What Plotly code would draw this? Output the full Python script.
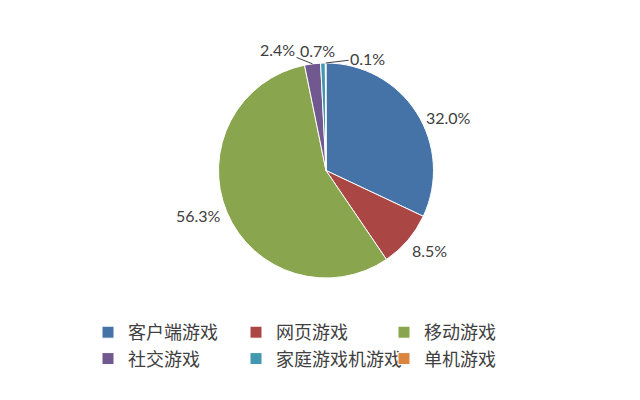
import math
import plotly.graph_objects as go

categories = ["客户端游戏", "网页游戏", "移动游戏", "社交游戏", "家庭游戏机游戏", "单机游戏"]
shares = [32.0, 8.5, 56.3, 2.4, 0.7, 0.1]
colors = ["#4572A7", "#AA4643", "#89A54E", "#71588F", "#4198AF", "#DB843D"]

# label placement style: screen-pixel offsets (right, down) from the slice's outer-edge midpoint
label_shift = [(32, 5), (22, 10), (-28, 3), (-35, -14), (-5, -13), (42, -5)]
label_arrow = [False, False, False, True, False, True]

W, H = 640, 400
ML, MR = 0, 120            # right margin narrows the plot area so the legend wraps into 3 columns
PW = W - ML - MR
cx_px, cy_px, r_px = 326, 170.5, 107.5


def px_x(px):
    return (px - ML) / PW


dom_x = [px_x(cx_px - r_px), px_x(cx_px + r_px)]
dom_y = [(H - cy_px - r_px) / H, (H - cy_px + r_px) / H]

fig = go.Figure(go.Pie(
    labels=categories,
    values=shares,
    sort=False,
    direction="clockwise",
    rotation=0,
    marker=dict(colors=colors, line=dict(color="white", width=1)),
    textinfo="none",
    domain=dict(x=dom_x, y=dom_y),
    hoverinfo="label+value",
))

total = sum(shares)
cum = 0.0
annotations = []
for name, v, (dx, dy), arrow in zip(categories, shares, label_shift, label_arrow):
    theta = math.radians((cum + v / 2) / total * 360)
    cum += v
    ex = px_x(cx_px + r_px * math.sin(theta))
    ey = (H - cy_px + r_px * math.cos(theta)) / H
    txt = f"{v:.1f}%"
    font = dict(family="Lato", size=16, color="#404040")
    common = dict(x=ex, y=ey, xref="paper", yref="paper", text=txt, font=font,
                  xanchor="center", yanchor="middle")
    if arrow:
        annotations.append(dict(
            **common, showarrow=True, arrowhead=0, arrowwidth=1,
            arrowcolor="#404040", ax=dx, ay=dy, standoff=0,
        ))
    else:
        annotations.append(dict(**common, showarrow=False, xshift=dx, yshift=-dy))

fig.update_layout(
    width=W, height=H,
    margin=dict(l=ML, r=MR, t=0, b=0, autoexpand=False),
    paper_bgcolor="white",
    plot_bgcolor="white",
    font=dict(family="Noto Sans CJK SC", color="#404040"),
    annotations=annotations,
    legend=dict(
        orientation="h",
        x=px_x(88), y=0.215, xanchor="left", yanchor="top",
        entrywidth=103, entrywidthmode="pixels",
        font=dict(family="Noto Sans CJK SC", size=18, color="#404040"),
        traceorder="normal",
    ),
)

fig.write_html("out.html", config={"displayModeBar": False},
               post_script="document.body.style.margin='0';")
